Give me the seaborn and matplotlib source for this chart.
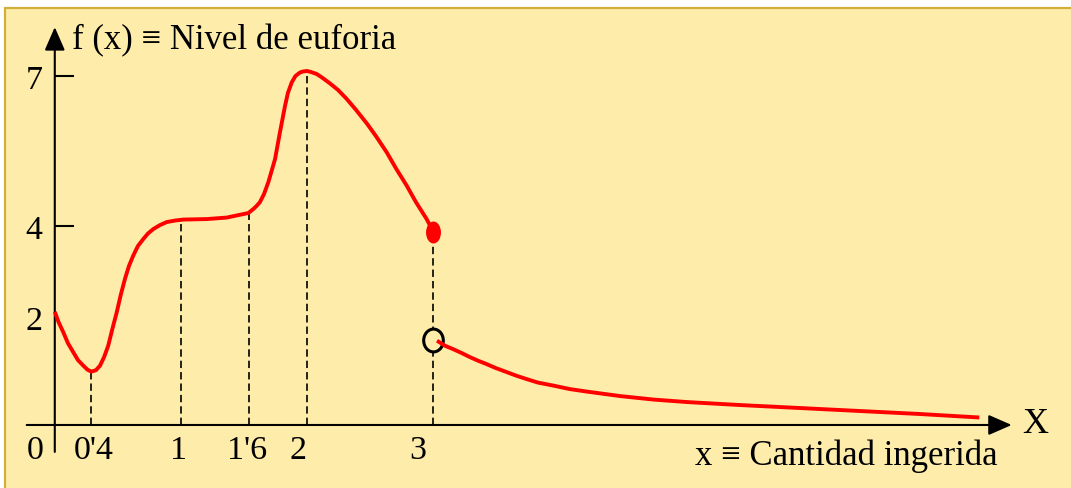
import numpy as np
import matplotlib
matplotlib.use("Agg")
import matplotlib.pyplot as plt
from matplotlib.patches import Rectangle
from matplotlib.path import Path
from matplotlib.transforms import Affine2D, ScaledTranslation
import seaborn as sns

# ---- data -----------------------------------------------------------------
# first branch of f(x): from x = 0 up to the closed point at x = 3
x_rise = [0, 0.040, 0.093, 0.144, 0.202, 0.254, 0.312, 0.357, 0.4, 0.431,
          0.458, 0.485, 0.513, 0.541, 0.570, 0.597, 0.625, 0.652, 0.681,
          0.712, 0.748, 0.779, 0.815, 0.860, 0.905, 0.960, 1.021, 1.227,
          1.403, 1.549, 1.593, 1.629, 1.651, 1.675, 1.703, 1.733, 1.779,
          1.813, 1.848, 1.868, 1.894, 1.920, 1.951, 1.972, 2.0, 2.031,
          2.076, 2.118, 2.182, 2.245, 2.314, 2.388, 2.473, 2.547, 2.631,
          2.704, 2.790, 2.863, 2.948, 3.0]
y_rise = [2.27, 2.07, 1.86, 1.64, 1.46, 1.30, 1.19, 1.11, 1.07, 1.10,
          1.19, 1.36, 1.59, 1.93, 2.26, 2.61, 2.93, 3.19, 3.40,
          3.59, 3.73, 3.84, 3.93, 4.01, 4.07, 4.10, 4.12, 4.13,
          4.16, 4.23, 4.25, 4.33, 4.39, 4.47, 4.63, 4.87, 5.33,
          5.87, 6.40, 6.66, 6.87, 7.00, 7.07, 7.09, 7.10, 7.08,
          7.04, 6.97, 6.85, 6.72, 6.54, 6.32, 6.05, 5.79, 5.47,
          5.15, 4.80, 4.47, 4.13, 3.88]

# second branch: decays after the jump at x = 3
x_tail = [3.03, 3.093, 3.159, 3.228, 3.292, 3.355, 3.424, 3.498, 3.583,
          3.657, 3.741, 3.831, 3.952, 4.083, 4.217, 4.481, 4.745, 5.010,
          5.431, 6.066, 6.859, 7.329]
y_tail = [1.69, 1.59, 1.52, 1.44, 1.36, 1.29, 1.22, 1.14, 1.06,
          0.99, 0.92, 0.85, 0.79, 0.72, 0.67, 0.58, 0.51, 0.46,
          0.40, 0.32, 0.22, 0.15]

jump_x = 3
closed_value = 3.88   # f(3), filled point
open_value = 1.70     # limit from the right, hollow point

guide_x = [0.4, 1, 1.6, 2, 3]
x_ticks = [0, 0.4, 1, 1.6, 2, 3]
x_tick_labels = ["0", "0'4", "1", "1'6", "2", "3"]
y_ticks = [2, 4, 7]
y_tick_labels = ["2", "4", "7"]

# ---- style ----------------------------------------------------------------
BG = "#FEEDAA"
FRAME = "#D2AE3A"
RED = "#FF0000"
SERIF = ["Liberation Serif", "DejaVu Serif"]

sns.set_style("white")
plt.rcParams["font.family"] = SERIF
plt.rcParams["text.color"] = "black"
plt.rcParams["lines.scale_dashes"] = False

W, H, DPI = 1071, 489, 100
fig = plt.figure(figsize=(W / DPI, H / DPI), dpi=DPI, facecolor="white")
fig.patches.append(Rectangle((5 / W, -0.05), 1.2, 1.05 - 9 / H,
                             transform=fig.transFigure, facecolor=BG,
                             edgecolor=FRAME, linewidth=1.6, zorder=-1))

ax = fig.add_axes([0, 0, 1, 1])
ax.set_facecolor("none")

# schematic (non-uniform) spacing of the x axis
src = np.array([0, 0.4, 1, 1.6, 2, 3], float)
dst = np.array([0, 0.29, 1, 1.54, 2, 3], float)


def _piecewise(v, a, b):
    v = np.asarray(v, float)
    out = np.interp(v, a, b)
    lo_slope = (b[1] - b[0]) / (a[1] - a[0])
    hi_slope = (b[-1] - b[-2]) / (a[-1] - a[-2])
    out = np.where(v < a[0], b[0] + (v - a[0]) * lo_slope, out)
    out = np.where(v > a[-1], b[-1] + (v - a[-1]) * hi_slope, out)
    return out


ax.set_xscale("function", functions=(lambda v: _piecewise(v, src, dst),
                                     lambda v: _piecewise(v, dst, src)))
ax.set_xlim(-0.599, 8.056)
ax.set_ylim(-1.264, 8.544)

# axes through the origin, drawn as arrows
for s in ax.spines.values():
    s.set_visible(False)
ax.spines["left"].set_position(("data", 0))
ax.spines["bottom"].set_position(("data", 0))

arrow = dict(arrowstyle="-|>,head_length=0.55,head_width=0.24",
             mutation_scale=26, color="black", lw=1.5,
             shrinkA=0, shrinkB=0)
ax.annotate("", xy=(0, 7.98), xytext=(0, -0.54), arrowprops=arrow, zorder=3)
ax.annotate("", xy=(7.586, 0), xytext=(-0.307, 0), arrowprops=arrow, zorder=3)

# ticks
ax.set_yticks(y_ticks, y_tick_labels)
ax.tick_params(axis="y", direction="in", length=13.7, width=1.5,
               labelsize=24.5, pad=9, colors="black", left=True)
ax.yaxis.get_major_ticks()[0].tick1line.set_visible(False)
ax.set_xticks(x_ticks, x_tick_labels)
ax.tick_params(axis="x", length=0, labelsize=24.5, pad=6.5, colors="black",
               bottom=True)
ax.minorticks_off()

x_nudge_px = [-20, 2, -2, -2, -9, -15]
for lab, dx in zip(ax.get_xticklabels(), x_nudge_px):
    lab.set_transform(lab.get_transform() +
                      ScaledTranslation(dx / DPI, 0, fig.dpi_scale_trans))
y_nudge_px = [8, -1, 0]
for lab, dy in zip(ax.get_yticklabels(), y_nudge_px):
    lab.set_transform(lab.get_transform() +
                      ScaledTranslation(0, dy / DPI, fig.dpi_scale_trans))

# dashed guides from the curve down to the x axis
guide_top = np.interp(guide_x, x_rise, y_rise)
ax.vlines(guide_x, 0, guide_top, colors="black", linewidth=1.2,
          linestyles=[(0, (5.3, 2.9))], zorder=2)

# curve branches
sns.lineplot(x=x_rise, y=y_rise, sort=False, estimator=None, color=RED,
             linewidth=2.8, ax=ax, zorder=4, solid_capstyle="butt")
sns.lineplot(x=x_tail, y=y_tail, sort=False, estimator=None, color=RED,
             linewidth=2.8, ax=ax, zorder=4, solid_capstyle="butt")

# filled and hollow end points at the jump
dot = Path.unit_circle().transformed(Affine2D().scale(0.68, 1.0))
ring = Path.unit_circle().transformed(Affine2D().scale(0.86, 1.0))
sns.scatterplot(x=[jump_x], y=[closed_value], marker=dot, s=250,
                color=RED, linewidth=0, ax=ax, zorder=5)
sns.scatterplot(x=[jump_x], y=[open_value], marker=ring, s=270,
                color=BG, edgecolor="black", linewidth=2.2, ax=ax, zorder=3.5)

# axis captions
ax.text(72 / W, 1 - 49.3 / H, "f (x) \u2261 Nivel de euforia",
        transform=ax.transAxes, fontsize=25, ha="left", va="baseline")
ax.text(998 / W, 1 - 465 / H, "x \u2261 Cantidad ingerida",
        transform=ax.transAxes, fontsize=25, ha="right", va="baseline")
ax.text(1035 / W, 1 - 425 / H, "X", transform=ax.transAxes, fontsize=26,
        ha="center", va="center")

fig.savefig("out.png", dpi=DPI, facecolor="white")
